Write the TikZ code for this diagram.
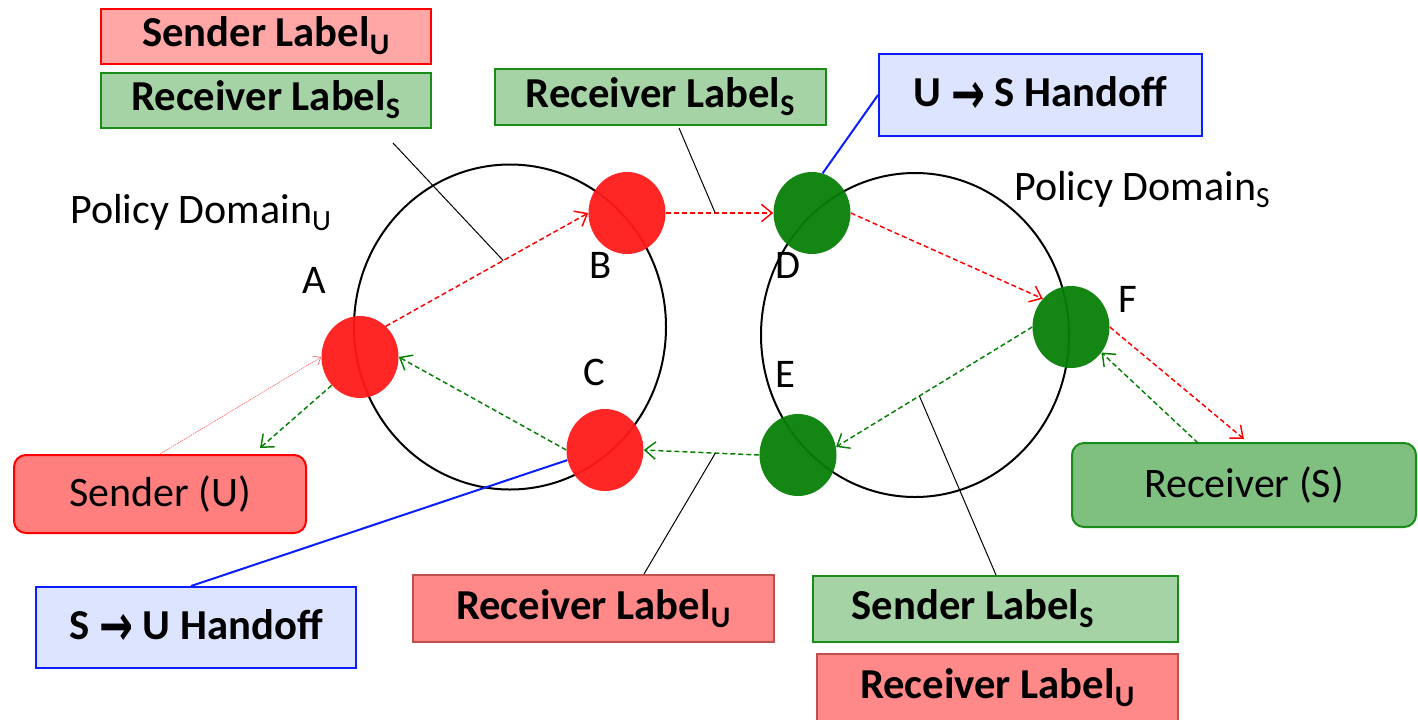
\documentclass[tikz,border=0pt]{standalone}
\usepackage{fontspec}
\usepackage{graphicx}
\setmainfont{Carlito}
\newfontfamily\symfont{DejaVu Sans}
\usetikzlibrary{arrows.meta,shapes.geometric}

\definecolor{dotred}{HTML}{FF1A1A}
\definecolor{dotgreen}{HTML}{067F06}
\definecolor{pinkfill}{HTML}{FFA6A6}
\definecolor{salmonfill}{HTML}{FF8888}
\definecolor{salmonedge}{HTML}{C0504D}
\definecolor{sendfill}{HTML}{FF7F7F}
\definecolor{mintfill}{HTML}{A6D3A6}
\definecolor{recvfill}{HTML}{7FBF7F}
\definecolor{greenedge}{HTML}{1A8C1A}
\definecolor{bluefill}{HTML}{DDE4FF}
\definecolor{blueedge}{HTML}{0A1EFF}
\definecolor{lightred}{HTML}{FF6A6A}

% heavy arrow used in the handoff captions
\newcommand{\rarrow}{\raisebox{-5pt}{\scalebox{0.95}[1.35]{\symfont\bfseries\fontsize{32}{36}\selectfont →}}}

\begin{document}
\begin{tikzpicture}[x=0.75pt,y=-0.75pt,
  lblbox/.style 2 args={draw, line width=1.5pt, inner sep=0pt,
    minimum width=#1*0.75pt, minimum height=#2*0.75pt},
  boldtxt/.style={font=\bfseries\fontsize{32}{36}\selectfont},
  plaintxt/.style={font=\fontsize{31.5}{36}\selectfont},
  domainring/.style={draw, line width=1.5pt, ellipse, inner sep=0pt},
  dotnode/.style={ellipse, inner sep=0pt, minimum width=77*0.75pt,
    minimum height=82*0.75pt, fill opacity=0.95},
  ptletter/.style={anchor=base west, inner sep=0pt, font=\fontsize{30.5}{36}\selectfont},
  flowline/.style={line width=1.1pt, dash pattern=on 3.75pt off 2.25pt,
    -{Straight Barb[length=8pt,width=13pt]}},
  redflow/.style={flowline, draw=red},
  greenflow/.style={flowline, draw=dotgreen},
  leaderline/.style={draw=black, line width=0.75pt},
  handoffline/.style={draw=blueedge, line width=1.5pt}]

\useasboundingbox (0,0) rectangle (1418,719);

% policy domains
\node[domainring, minimum width=312*0.75pt, minimum height=325*0.75pt] (domU) at (510,327) {};
\node[domainring, minimum width=308*0.75pt, minimum height=324*0.75pt] (domS) at (915,335) {};
\node[plaintxt, anchor=base west, inner sep=0pt] (pdU) at (70,223) {Policy Domain\textsubscript{U}};
\node[plaintxt, anchor=base west, inner sep=0pt] (pdS) at (1014,200) {Policy Domain\textsubscript{S}};

% gateway points
\node[dotnode, fill=dotred] (A) at (360,357) {};
\node[dotnode, fill=dotred] (B) at (627,213) {};
\node[dotnode, fill=dotred] (C) at (605,450) {};
\node[dotnode, fill=dotgreen] (D) at (812,213) {};
\node[dotnode, fill=dotgreen] (E) at (798,455) {};
\node[dotnode, fill=dotgreen] (F) at (1071,327) {};

\node[ptletter] (la) at (302,293) {A};
\node[ptletter] (lb) at (589,278) {B};
\node[ptletter] (lc) at (583,385) {C};
\node[ptletter] (ld) at (775,278) {D};
\node[ptletter] (le) at (775,387) {E};
\node[ptletter] (lf) at (1118,312) {F};

% label boxes
\node[lblbox={330}{55}, boldtxt, draw=red, fill=pinkfill] (slU) at (266,36) {Sender Label\textsubscript{U}};
\node[lblbox={330}{55}, boldtxt, draw=greenedge, fill=mintfill] (rlS1) at (266,100) {Receiver Label\textsubscript{S}};
\node[lblbox={331}{56}, boldtxt, draw=greenedge, fill=mintfill] (rlS2) at (660.5,97) {Receiver Label\textsubscript{S}};
\node[lblbox={323}{82}, boldtxt, draw=blueedge, fill=bluefill] (us) at (1040.5,95) {U \rarrow\ S Handoff};
\node[lblbox={292}{78}, plaintxt, draw=red, fill=sendfill, rounded corners=9pt] (sndU) at (160,494) {Sender (U)};
\node[lblbox={320}{81}, boldtxt, draw=blueedge, fill=bluefill] (su) at (196,627.5) {S \rarrow\ U Handoff};
\node[lblbox={361}{67}, boldtxt, draw=salmonedge, fill=salmonfill] (rlU1) at (593.5,608.5) {Receiver Label\textsubscript{U}};
\node[lblbox={344}{84}, plaintxt, draw=greenedge, fill=recvfill, rounded corners=9pt] (rcvS) at (1244,485) {Receiver (S)};
\node[lblbox={365}{66}, boldtxt, draw=greenedge, fill=mintfill] (slS) at (995.5,609) {\kern-34pt Sender Label\textsubscript{S}};
\node[lblbox={361}{67}, boldtxt, draw=salmonedge, fill=salmonfill] (rlU2) at (997.5,687.5) {Receiver Label\textsubscript{U}};

% free ends
\coordinate (rls1foot) at (393,143);
\coordinate (rls2foot) at (679,128);
\coordinate (sndtip) at (260,448);
\coordinate (rcvtip) at (1244,439);
\coordinate (rcvfoot) at (1198,443);

% message flows
\draw[redflow] (A.50) -- coordinate[pos=0.58] (ab) (B.west);
\draw[redflow] (B.east) -- coordinate[pos=0.46] (bd) (D.west);
\draw[redflow] (D.east) -- (F.135);
\draw[redflow] (F.east) -- (rcvtip);
\draw[greenflow] (rcvfoot) -- (F.-40);
\draw[greenflow] (F.west) -- coordinate[pos=0.575] (fe) (E.12);
\draw[greenflow] (E.west) -- coordinate[pos=0.38] (ec) (C.east);
\draw[greenflow] (C.west) -- (A.east);
\draw[greenflow] (A.225) -- (sndtip);
\draw[draw=lightred, line width=0.5pt, dash pattern=on 1pt off 0.6pt,
  -{Straight Barb[length=5pt,width=8pt]}] (sndU.north) -- (A.west);

% label leaders
\draw[leaderline] (rls1foot) -- (ab);
\draw[leaderline] (rls2foot) -- (bd);
\draw[leaderline] (rlU1.north -| 644,0) -- (ec);
\draw[leaderline] (slS.north -| 996,0) -- (fe);

% handoff callouts
\draw[handoffline] (us.west) -- (D.75);
\draw[handoffline] (su.north -| 191,0) -- (C.195);

\end{tikzpicture}
\end{document}
